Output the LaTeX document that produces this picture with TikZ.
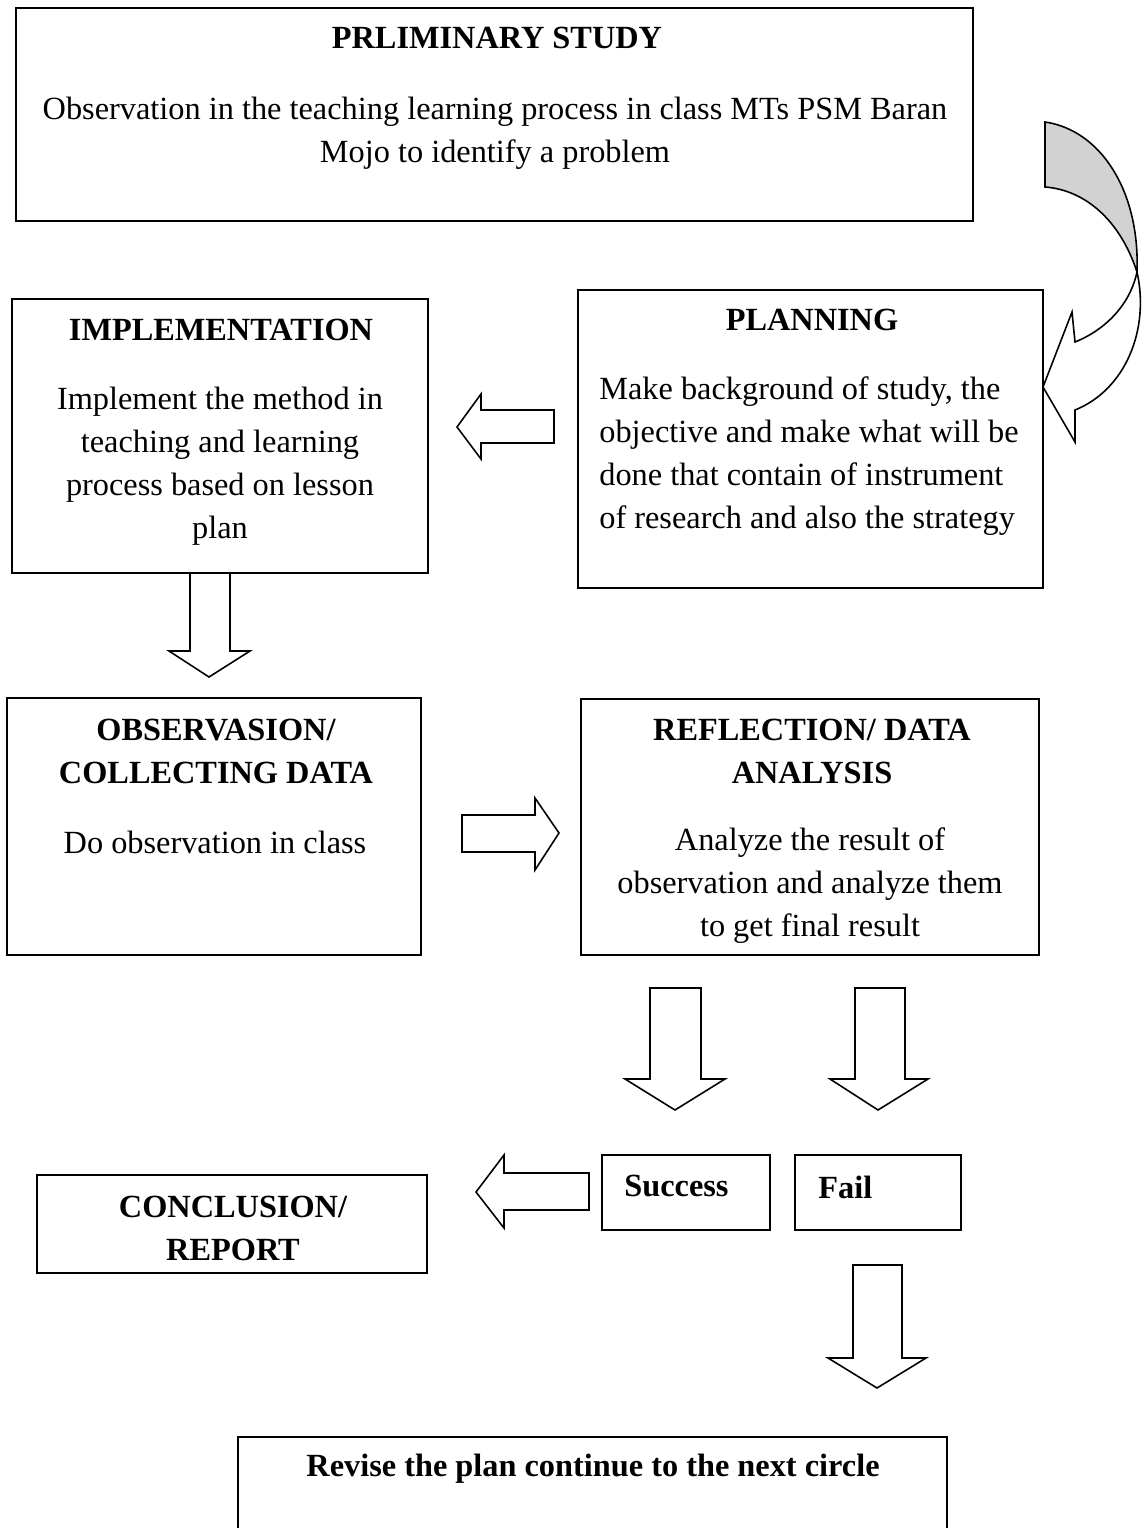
\documentclass[tikz,border=0pt]{standalone}
\usepackage{fontspec}
\setmainfont{Liberation Serif}
\usepackage{tikz}

\begin{document}
\begin{tikzpicture}[x=0.02cm,y=-0.02cm]
          \tikzstyle{every node}+=[inner sep=0pt, font=\fontsize{18.4}{24.5}\selectfont]
          \tikzstyle{box}=[draw=black, line width=1pt]
          \tikzstyle{title}=[font=\fontsize{18.4}{24.5}\selectfont\bfseries, align=center]
          \tikzstyle{blockarrow}=[draw=black, line width=0.9pt, line join=miter]
          \useasboundingbox (0,0) rectangle (1147,1528);
          % boxes
          \node (prelim) [box, minimum width=19.14cm, minimum height=4.26cm] at (494.5,114.5) {};
          \node (plan) [box, minimum width=9.3cm, minimum height=5.96cm] at (810.5,439) {};
          \node (impl) [box, minimum width=8.32cm, minimum height=5.48cm] at (220,436) {};
          \node (obs) [box, minimum width=8.28cm, minimum height=5.14cm] at (214,826.5) {};
          \node (refl) [box, minimum width=9.16cm, minimum height=5.12cm] at (810,827) {};
          \node (success) [box, minimum width=3.36cm, minimum height=1.5cm] at (686,1192.5) {};
          \node (fail) [box, minimum width=3.32cm, minimum height=1.5cm] at (878,1192.5) {};
          \node (concl) [box, minimum width=7.8cm, minimum height=1.96cm] at (232,1224) {};
          \node (revise) [box, minimum width=14.18cm, minimum height=3.26cm] at (592.5,1518.5) {};
          % texts
          \node (prelimtitle) [title] at (497,38) {PRLIMINARY STUDY};
          \node (prelimtext) [align=center] at (495,133) {Observation in the teaching learning process in class MTs PSM Baran\\Mojo to identify a problem};
          \node (plantitle) [title] at (812,320) {PLANNING};
          \node (plantext) [align=left, anchor=west] at (599,456) {Make background of study, the\\objective and make what will be\\done that contain of instrument\\of research and also the strategy};
          \node (impltitle) [title] at (221,330) {IMPLEMENTATION};
          \node (impltext) [align=center] at (220,466) {Implement the method in\\teaching and learning\\process based on lesson\\plan};
          \node (obstitle) [title] at (216,751) {OBSERVASION/\\COLLECTING DATA};
          \node (obstext) [align=center] at (215,842) {Do observation in class};
          \node (refltitle) [title] at (812,751) {REFLECTION/ DATA\\ANALYSIS};
          \node (refltext) [align=center] at (810,886) {Analyze the result of\\observation and analyze them\\to get final result};
          \node (successtext) [title, anchor=west] at (624,1186) {Success};
          \node (failtext) [title, anchor=west] at (818,1187) {Fail};
          \node (concltext) [title] at (233,1228) {CONCLUSION/\\REPORT};
          \node (revisetext) [title] at (593,1469) {Revise the plan continue to the next circle};
          % curved arrow into planning
          \draw [black, line width=0.9pt, fill=gray!35] (1045,122) .. controls (1100,130) and (1140,190) .. (1137,272) .. controls (1120,220) and (1085,190) .. (1045,187) -- cycle;
          \draw [black, line width=0.9pt, fill=white] (1137,272) .. controls (1130,305) and (1105,330) .. (1075,342) -- (1072,312) -- (1043,387) -- (1075,442) -- (1075,410) .. controls (1125,390) and (1150,330) .. (1137,272);
          % block arrows
          \draw [blockarrow] (554,410) -- (481,410) -- (481,394) -- (457,427) -- (481,459) -- (481,443) -- (554,443) -- cycle;
          \draw [blockarrow] (190,573) -- (190,651) -- (169,651) -- (209,677) -- (250,651) -- (230,651) -- (230,573);
          \draw [blockarrow] (462,815) -- (535,815) -- (535,798) -- (559,833) -- (535,870) -- (535,852) -- (462,852) -- cycle;
          \draw [blockarrow] (650,988) -- (650,1079) -- (625,1079) -- (675,1110) -- (725,1079) -- (701,1079) -- (701,988) -- cycle;
          \draw [blockarrow] (855,988) -- (855,1079) -- (830,1079) -- (878,1110) -- (928,1079) -- (905,1079) -- (905,988) -- cycle;
          \draw [blockarrow] (589,1173) -- (504,1173) -- (504,1155) -- (476,1192) -- (504,1228) -- (504,1210) -- (589,1210) -- cycle;
          \draw [blockarrow] (853,1265) -- (853,1358) -- (828,1358) -- (877,1388) -- (926,1358) -- (902,1358) -- (902,1265) -- cycle;
     \end{tikzpicture}
\end{document}
